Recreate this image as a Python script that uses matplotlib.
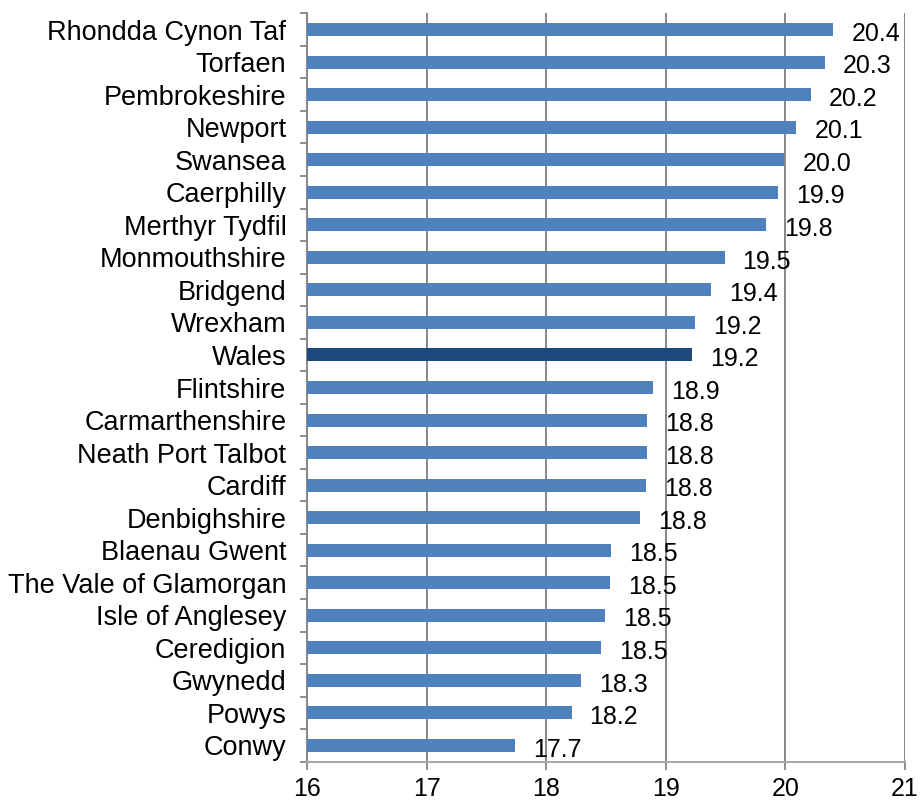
import matplotlib
matplotlib.use("Agg")
import matplotlib.pyplot as plt

# data, top to bottom as shown
areas = ["Rhondda Cynon Taf", "Torfaen", "Pembrokeshire", "Newport", "Swansea",
         "Caerphilly", "Merthyr Tydfil", "Monmouthshire", "Bridgend", "Wrexham",
         "Wales", "Flintshire", "Carmarthenshire", "Neath Port Talbot", "Cardiff",
         "Denbighshire", "Blaenau Gwent", "The Vale of Glamorgan", "Isle of Anglesey",
         "Ceredigion", "Gwynedd", "Powys", "Conwy"]
values = [20.40, 20.33, 20.21, 20.09, 19.99,
          19.94, 19.84, 19.49, 19.38, 19.24,
          19.22, 18.89, 18.84, 18.84, 18.83,
          18.78, 18.54, 18.53, 18.49,
          18.46, 18.29, 18.21, 17.74]
highlight = "Wales"
x_ticks = [16, 17, 18, 19, 20, 21]

plt.rcParams['font.family'] = ['Liberation Sans', 'DejaVu Sans']

fig = plt.figure(figsize=(9.22, 8.08), dpi=100)
ax = fig.add_axes([0.3333, 0.0573, 0.6483, 0.9262])

ypos = list(range(len(areas)))
colors = ["#1F497D" if a == highlight else "#4F81BD" for a in areas]
ax.barh(ypos, [v - 16 for v in values], left=16, height=0.4, color=colors, zorder=3)

for y, v in zip(ypos, values):
    ax.annotate("%.1f" % v, xy=(v, y), xytext=(13, -3), textcoords="offset points",
                ha="left", va="center", fontsize=18, color="black", zorder=4)

ax.set_xlim(16, 21)
ax.set_ylim(len(areas) - 0.5, -0.5)
ax.set_xticks(x_ticks)
ax.set_xticklabels([str(t) for t in x_ticks])
ax.set_yticks([y - 0.5 for y in ypos] + [len(areas) - 0.5])
ax.set_yticklabels([])
ax.set_yticks(ypos, minor=True)
ax.set_yticklabels(areas, minor=True, fontsize=19.5)
ax.tick_params(axis="y", which="minor", length=0, pad=15)
ax.tick_params(axis="y", which="major", length=5, width=1.3, color="#868686")
ax.tick_params(axis="x", length=5.8, width=1.3, color="#868686", pad=5.5,
               labelsize=18)

ax.grid(axis="x", color="#868686", linewidth=1.4, zorder=0)
for s in ["top", "right"]:
    ax.spines[s].set_visible(False)
ax.spines["left"].set_color("#868686")
ax.spines["left"].set_linewidth(1.4)
ax.spines["bottom"].set_color("#a6a6a6")
ax.spines["bottom"].set_linewidth(1.4)

fig.savefig("out.png", dpi=100)
